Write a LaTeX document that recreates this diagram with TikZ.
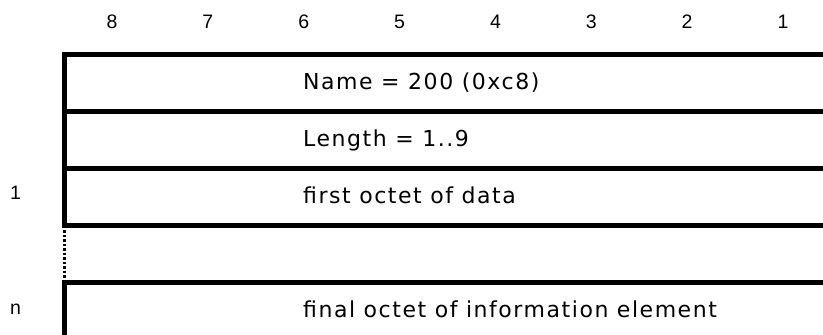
\documentclass[tikz,border=0pt]{standalone}
\usepackage{fontspec}
\setmainfont{DejaVu Sans}
\newfontfamily\bitfont{Liberation Sans}
\newfontfamily\cellfont[LetterSpace=7]{DejaVu Sans}
\begin{document}
\begin{tikzpicture}[x=1pt,y=-1pt,
  bitnum/.style={font=\bitfont\fontsize{19.5}{21}\selectfont, inner sep=0pt, anchor=base},
  celltext/.style={font=\cellfont\fontsize{22}{25}\selectfont, inner sep=0pt, anchor=base west},
  rowline/.style={line width=4.5pt, line cap=rect},
  gapline/.style={line width=2.5pt, dash pattern=on 2.5pt off 2pt}]
\useasboundingbox (0,0) rectangle (823,335);
% bit numbers
\foreach \b [count=\i from 0] in {8,7,6,5,4,3,2,1}
  \node[bitnum] (bit\b) at ({112+95.86*\i},28) {\b};
% corners
\coordinate (tl) at (64.5,54.5);
\coordinate (tr) at (830,54.5);
\coordinate (l1) at (64.5,111.5);
\coordinate (r1) at (830,111.5);
\coordinate (l2) at (64.5,168.5);
\coordinate (r2) at (830,168.5);
\coordinate (l3) at (64.5,225.5);
\coordinate (r3) at (830,225.5);
\coordinate (l4) at (64.5,282.5);
\coordinate (r4) at (830,282.5);
\coordinate (bl) at (64.5,340);
% horizontal lines
\draw[rowline] (tl) -- (tr);
\draw[rowline] (l1) -- (r1);
\draw[rowline] (l2) -- (r2);
\draw[rowline] (l3) -- (r3);
\draw[rowline] (l4) -- (r4);
% left side
\draw[rowline] (tl) -- (l3);
\draw[gapline] (l3) -- (l4);
\draw[rowline] (l4) -- (bl);
% texts
\node[celltext] (name) at (303,89) {Name = 200 (0xc8)};
\node[celltext] (len) at (303,146) {Length = 1..9};
\node[celltext] (first) at (303,203) {first octet of data};
\node[celltext] (final) at (303,317) {final octet of information element};
\node[bitnum] (o1) at (15.5,199) {1};
\node[bitnum] (on) at (15.5,314) {n};
\end{tikzpicture}
\end{document}
